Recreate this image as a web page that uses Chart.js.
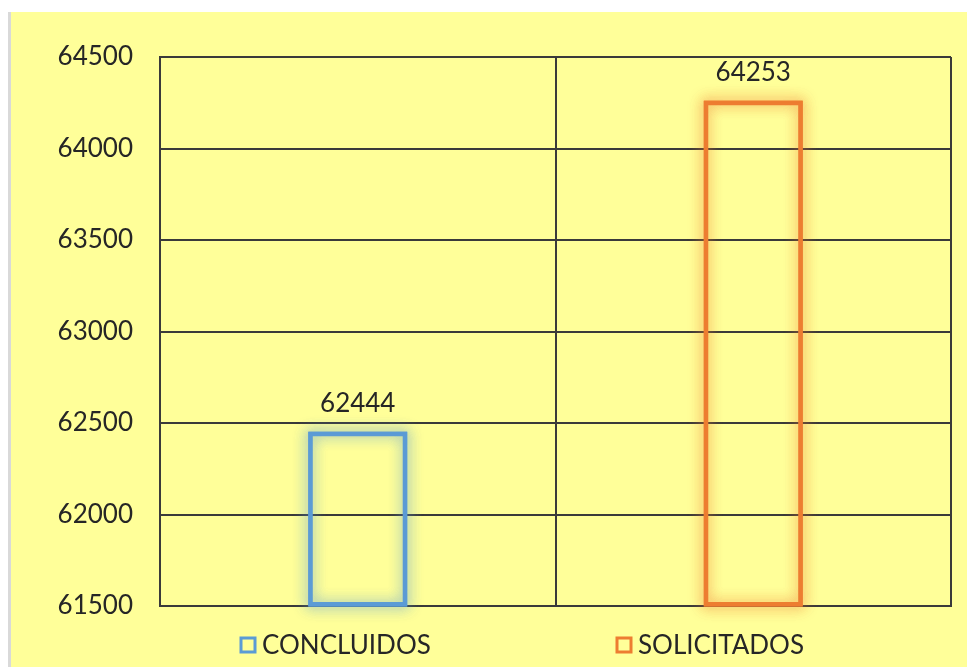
<!DOCTYPE html>
<html>
<head>
<meta charset="utf-8">
<script src="https://cdn.jsdelivr.net/npm/chart.js@4"></script>
<style>
  html, body { margin: 0; padding: 0; background: #fff; }
  #wrap {
    position: absolute; left: 8px; top: 12px;
    width: 956px; height: 655px;
    background: #FFFF99;
    border-left: 3px solid #d9d9d9;
  }
</style>
</head>
<body>
<div id="wrap"><canvas id="c" width="956" height="655"></canvas></div>
<script>
const categories = ['CONCLUIDOS', 'SOLICITADOS'];
const values = [62444, 64253];
const barColors = ['#5B9BD5', '#ED7D31'];
const glowColors = ['rgba(91,155,213,0.8)', 'rgba(237,125,49,0.8)'];
const yTicks = [61500, 62000, 62500, 63000, 63500, 64000, 64500];

const FONT = 'Lato, "Open Sans", sans-serif';
const textColor = '#262626';

// soft glow round each bar, like the Excel glow effect
const glowPlugin = {
    id: 'glow',
    beforeDatasetsDraw(chart) {
        const meta = chart.getDatasetMeta(0);
        const ctx = chart.ctx;
        meta.data.forEach((bar, i) => {
            ctx.save();
            ctx.shadowColor = glowColors[i];
            ctx.shadowBlur = 14;
            ctx.strokeStyle = barColors[i];
            ctx.lineWidth = 3;
            const w = bar.width;
            ctx.strokeRect(bar.x - w / 2, bar.y, w, bar.base - bar.y);
            ctx.strokeRect(bar.x - w / 2, bar.y, w, bar.base - bar.y);
            ctx.restore();
        });
    },
    afterDatasetsDraw(chart) {
        // value labels over the bars
        const meta = chart.getDatasetMeta(0);
        const ctx = chart.ctx;
        ctx.save();
        ctx.font = '26px ' + FONT;
        ctx.fillStyle = textColor;
        ctx.textAlign = 'center';
        ctx.textBaseline = 'middle';
        meta.data.forEach((bar, i) => {
            ctx.fillText(String(values[i]), bar.x, bar.y - 30);
        });
        ctx.restore();
    },
    afterDraw(chart) {
        // legend at the bottom
        const ctx = chart.ctx;
        const y = 633;
        const boxX = [230, 606];
        ctx.save();
        ctx.font = '26px ' + FONT;
        ctx.textBaseline = 'middle';
        ctx.textAlign = 'left';
        categories.forEach((name, i) => {
            ctx.strokeStyle = barColors[i];
            ctx.lineWidth = 3;
            ctx.strokeRect(boxX[i], y - 7, 14, 14);
            ctx.fillStyle = textColor;
            ctx.fillText(name, boxX[i] + 21, y + 1);
        });
        ctx.restore();
    }
};

new Chart(document.getElementById('c'), {
    type: 'bar',
    data: {
        labels: categories,
        datasets: [{
            data: values,
            base: yTicks[0],
            backgroundColor: 'rgba(0,0,0,0)',
            borderColor: barColors,
            borderWidth: 3,
            borderSkipped: false,
            barPercentage: 0.485,
            categoryPercentage: 0.5
        }]
    },
    options: {
        responsive: false,
        animation: false,
        layout: { padding: { top: 45, right: 16, bottom: 61, left: 0 } },
        plugins: {
            legend: { display: false },
            tooltip: { enabled: false }
        },
        scales: {
            x: {
                grid: { color: '#3a3a3a', lineWidth: 2, drawTicks: false, offset: true },
                border: { color: '#3a3a3a', width: 2 },
                ticks: { display: false },
                afterFit(scale) { scale.height = 0; }
            },
            y: {
                min: yTicks[0],
                max: yTicks[yTicks.length - 1],
                grid: { color: '#3a3a3a', lineWidth: 2, drawTicks: false },
                border: { color: '#3a3a3a', width: 2 },
                afterBuildTicks(scale) { scale.ticks = yTicks.map(v => ({ value: v })); },
                ticks: {
                    padding: 27,
                    color: textColor,
                    font: { family: FONT, size: 26 },
                    callback: v => String(v)
                },
                afterFit(scale) { scale.width = 149; }
            }
        }
    },
    plugins: [glowPlugin]
});
</script>
</body>
</html>
